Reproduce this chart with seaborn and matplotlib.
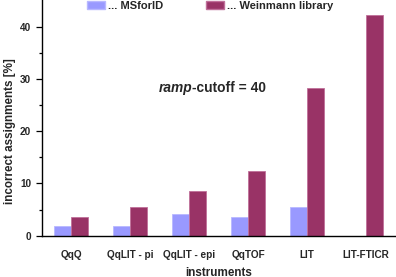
import matplotlib
matplotlib.use("Agg")
import matplotlib.pyplot as plt
import seaborn as sns
import pandas as pd
import numpy as np
from matplotlib.patches import Patch

instruments = ["QqQ", "QqLIT - pi", "QqLIT - epi", "QqTOF", "LIT", "LIT-FTICR"]
msforid = [1.9, 1.9, 4.2, 3.6, 5.5, 0.0]
weinmann = [3.6, 5.5, 8.6, 12.4, 28.3, 42.2]
series_names = ["... MSforID", "... Weinmann library"]
colors = ["#9999ff", "#993366"]
edge_colors = ["#b8b8ff", "#c0709a"]

df = pd.DataFrame({
    "instrument": instruments * 2,
    "value": msforid + weinmann,
    "series": [series_names[0]] * len(instruments) + [series_names[1]] * len(instruments),
})

sns.set_style("white")
plt.rcParams["font.family"] = ["Liberation Sans", "DejaVu Sans"]
plt.rcParams["font.weight"] = "bold"

fig = plt.figure(figsize=(3.96, 2.77), dpi=100)
ax = fig.add_axes([41.5 / 396, 1 - 235.7 / 277, (395.5 - 41.5) / 396, 235.7 / 277])

sns.barplot(data=df, x="instrument", y="value", hue="series", palette=colors,
            width=0.58, ax=ax, legend=False, saturation=1)

for i, container in enumerate(ax.containers):
    for bar in container:
        bar.set_edgecolor(edge_colors[i])
        bar.set_linewidth(0.6)

ax.set_xlim(-0.5, len(instruments) - 0.5)
ax.set_ylim(0, 45.1)
ax.set_yticks([0, 10, 20, 30, 40])
ax.set_yticks([5, 15, 25, 35], minor=True)
ax.set_xticks(np.arange(-0.5, len(instruments)), minor=True)
ax.set_xticks(range(len(instruments)))
ax.set_xticklabels(instruments)

for s in ["top", "right"]:
    ax.spines[s].set_visible(False)
for s in ["left", "bottom"]:
    ax.spines[s].set_color("black")
    ax.spines[s].set_linewidth(1.0)

ax.tick_params(axis="x", which="major", length=0, pad=10, labelsize=7.2)
ax.tick_params(axis="x", which="minor", length=4, width=0.9, direction="out", color="black")
ax.tick_params(axis="y", which="major", length=4, width=0.9, direction="out", color="black", labelsize=7.2, left=True)
ax.tick_params(axis="y", which="minor", length=2, width=0.9, direction="out", color="black", left=True)
for lab in ax.get_xticklabels() + ax.get_yticklabels():
    lab.set_fontweight("bold")

ax.set_xlabel("instruments", fontsize=8.4, fontweight="bold", labelpad=5)
ax.set_ylabel("incorrect assignments [%]", fontsize=8.4, fontweight="bold", labelpad=3)
ax.yaxis.label.set_y(0.445)

jx, jy = 192 / 396, 1 - 88 / 277
fig.text(jx, jy, "ramp", ha="right", va="center", fontsize=9.9, fontweight="bold", fontstyle="italic")
fig.text(jx, jy, "-cutoff = 40", ha="left", va="center", fontsize=9.9, fontweight="bold")

handles = [Patch(facecolor=colors[i], edgecolor=edge_colors[i]) for i in range(2)]
fig.legend(handles, series_names, loc="center left", bbox_to_anchor=(87 / 396, 1 - 6 / 277),
           ncol=2, frameon=False, handlelength=1.6, handleheight=0.7,
           handletextpad=0.27, columnspacing=3.9, prop={"weight": "bold", "size": 8},
           borderpad=0, borderaxespad=0)

fig.savefig("out.png", dpi=100)
